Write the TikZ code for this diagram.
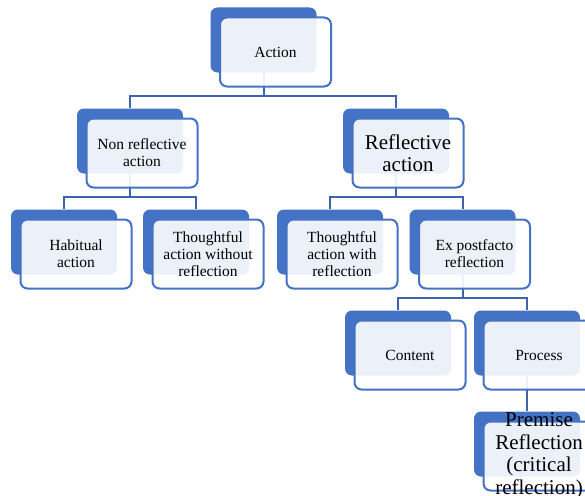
\documentclass[tikz,border=0pt]{standalone}
\usepackage{fontspec}
\setmainfont{Liberation Serif}
\usepackage{tikz}

\definecolor{accblue}{HTML}{4472C4}
\definecolor{linkblue}{HTML}{3D64AC}

\begin{document}
\begin{tikzpicture}[x=1pt, y=-1pt,
    back/.style={fill=accblue, rounded corners=7pt, minimum width=106pt, minimum height=65pt, inner sep=0pt},
    front/.style={draw=accblue, line width=2pt, fill=white, fill opacity=0.9, text opacity=1,
      rounded corners=7pt, minimum width=111pt, minimum height=69pt, inner sep=0pt,
      align=center, font=\fontsize{15.5}{16.8}\selectfont, xshift=12pt, yshift=-12pt},
    bigtext/.style={font=\fontsize{21}{22.5}\selectfont},
    link/.style={draw=linkblue, line width=2pt}]
    \useasboundingbox (0,0) rectangle (585,495);
    \clip (0,0) rectangle (585,495);

    % back boxes
    \node[back] (act) at (263.5,40) {};
    \node[back] (nonref) at (130,141) {};
    \node[back] (ref) at (396,141) {};
    \node[back] (habit) at (64,242) {};
    \node[back] (thwo) at (196,242) {};
    \node[back] (thw) at (330,242) {};
    \node[back] (expf) at (462.5,242) {};
    \node[back] (cont) at (398,343) {};
    \node[back] (proc) at (527,343) {};
    \node[back] (prem) at (527,444) {};

    % connectors
    \draw[link] (act.south) -- ++(0,23.5) -| (nonref.north);
    \draw[link] (act.south) -- ++(0,23.5) -| (ref.north);
    \draw[link] (nonref.south) -- ++(0,23.5) -| (habit.north);
    \draw[link] (nonref.south) -- ++(0,23.5) -| (thwo.north);
    \draw[link] (ref.south) -- ++(0,23.5) -| (thw.north);
    \draw[link] (ref.south) -- ++(0,23.5) -| (expf.north);
    \draw[link] (expf.south) -- ++(0,23.5) -| (cont.north);
    \draw[link] (expf.south) -- ++(0,23.5) -| (proc.north);
    \draw[link] (proc.south) -- (prem.north);

    % front boxes with labels
    \node[front] (act-f) at (act) {Action};
    \node[front] (nonref-f) at (nonref) {Non reflective\\action};
    \node[front, bigtext] (ref-f) at (ref) {Reflective\\action};
    \node[front] (habit-f) at (habit) {Habitual\\action};
    \node[front] (thwo-f) at (thwo) {Thoughtful\\action without\\reflection};
    \node[front] (thw-f) at (thw) {Thoughtful\\action with\\reflection};
    \node[front] (expf-f) at (expf) {Ex postfacto\\reflection};
    \node[front] (cont-f) at (cont) {Content};
    \node[front] (proc-f) at (proc) {Process};
    \node[front] (prem-f) at (prem) {};
    \node[bigtext, align=center] (prem-t) at (prem-f) {Premise\\Reflection\\(critical\\reflection)};
\end{tikzpicture}
\end{document}
